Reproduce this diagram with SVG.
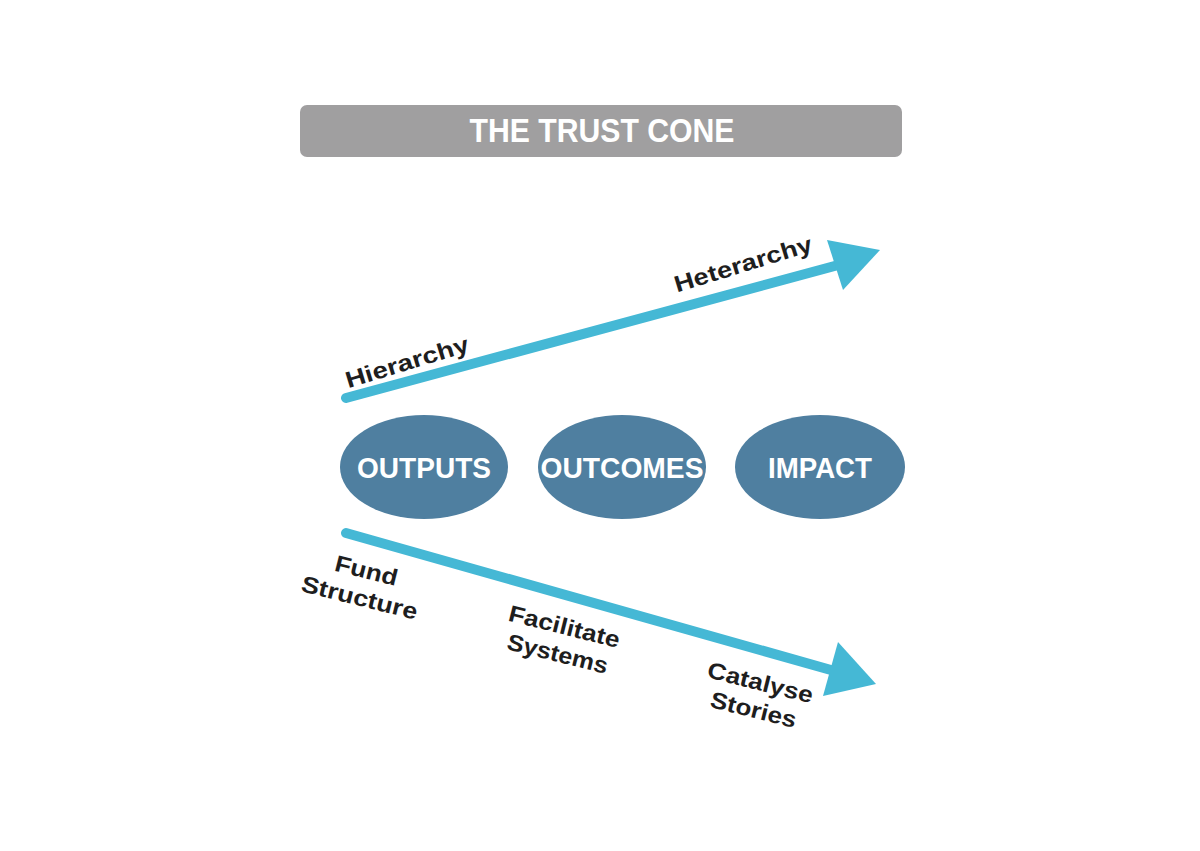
<svg xmlns="http://www.w3.org/2000/svg" width="1200" height="851" viewBox="0 0 1200 851">
<style>
.title{font-family:"Liberation Sans",Arial,sans-serif;font-weight:bold;font-size:33px;fill:#fff;text-anchor:middle}
.node{fill:#4f7fa0}
.nt{font-family:"Liberation Sans",Arial,sans-serif;font-weight:bold;font-size:29px;fill:#fff;text-anchor:middle}
.lbl{font-family:"Liberation Sans",Arial,sans-serif;font-weight:bold;font-size:23px;fill:#1e1e1e;text-anchor:middle}
.arr{stroke:#45b8d5;stroke-width:10;stroke-linecap:round;fill:none}
.head{fill:#45b8d5}
</style>
<rect width="1200" height="851" fill="#fff"/>
<g id="title">
<rect x="300" y="105" width="602" height="52" rx="7" fill="#a09fa0"/>
<text class="title" x="602" y="142" textLength="265" lengthAdjust="spacingAndGlyphs">THE TRUST CONE</text>
</g>
<g id="connectors">
<line class="arr" x1="346" y1="398" x2="842" y2="264"/>
<polygon class="head" points="880,250 827,240 843,290"/>
<line class="arr" x1="346" y1="533" x2="838" y2="672"/>
<polygon class="head" points="876,684 838,642 823,696"/>
</g>
<g id="outputs">
<ellipse class="node" cx="424" cy="467" rx="84" ry="52"/>
<text class="nt" x="424" y="478" textLength="134" lengthAdjust="spacingAndGlyphs">OUTPUTS</text>
</g>
<g id="outcomes">
<ellipse class="node" cx="622" cy="467" rx="84" ry="52"/>
<text class="nt" x="622" y="478" textLength="163" lengthAdjust="spacingAndGlyphs">OUTCOMES</text>
</g>
<g id="impact">
<ellipse class="node" cx="820" cy="467" rx="85" ry="52"/>
<text class="nt" x="820" y="478" textLength="104" lengthAdjust="spacingAndGlyphs">IMPACT</text>
</g>
<g id="hierarchy" transform="translate(407,362) rotate(-17)">
<text class="lbl" x="0" y="8" textLength="128" lengthAdjust="spacingAndGlyphs">Hierarchy</text>
</g>
<g id="heterarchy" transform="translate(743,264) rotate(-17)">
<text class="lbl" x="0" y="8" textLength="143" lengthAdjust="spacingAndGlyphs">Heterarchy</text>
</g>
<g id="fund-structure" transform="translate(363,584) rotate(14)">
<text class="lbl" x="0" y="-6" textLength="64" lengthAdjust="spacingAndGlyphs">Fund</text>
<text class="lbl" x="0" y="22" textLength="119" lengthAdjust="spacingAndGlyphs">Structure</text>
</g>
<g id="facilitate-systems" transform="translate(561,640) rotate(14)">
<text class="lbl" x="0" y="-6" textLength="114" lengthAdjust="spacingAndGlyphs">Facilitate</text>
<text class="lbl" x="0" y="22" textLength="103" lengthAdjust="spacingAndGlyphs">Systems</text>
</g>
<g id="catalyse-stories" transform="translate(757,696) rotate(14)">
<text class="lbl" x="0" y="-6" textLength="108" lengthAdjust="spacingAndGlyphs">Catalyse</text>
<text class="lbl" x="0" y="22" textLength="88" lengthAdjust="spacingAndGlyphs">Stories</text>
</g>
</svg>
